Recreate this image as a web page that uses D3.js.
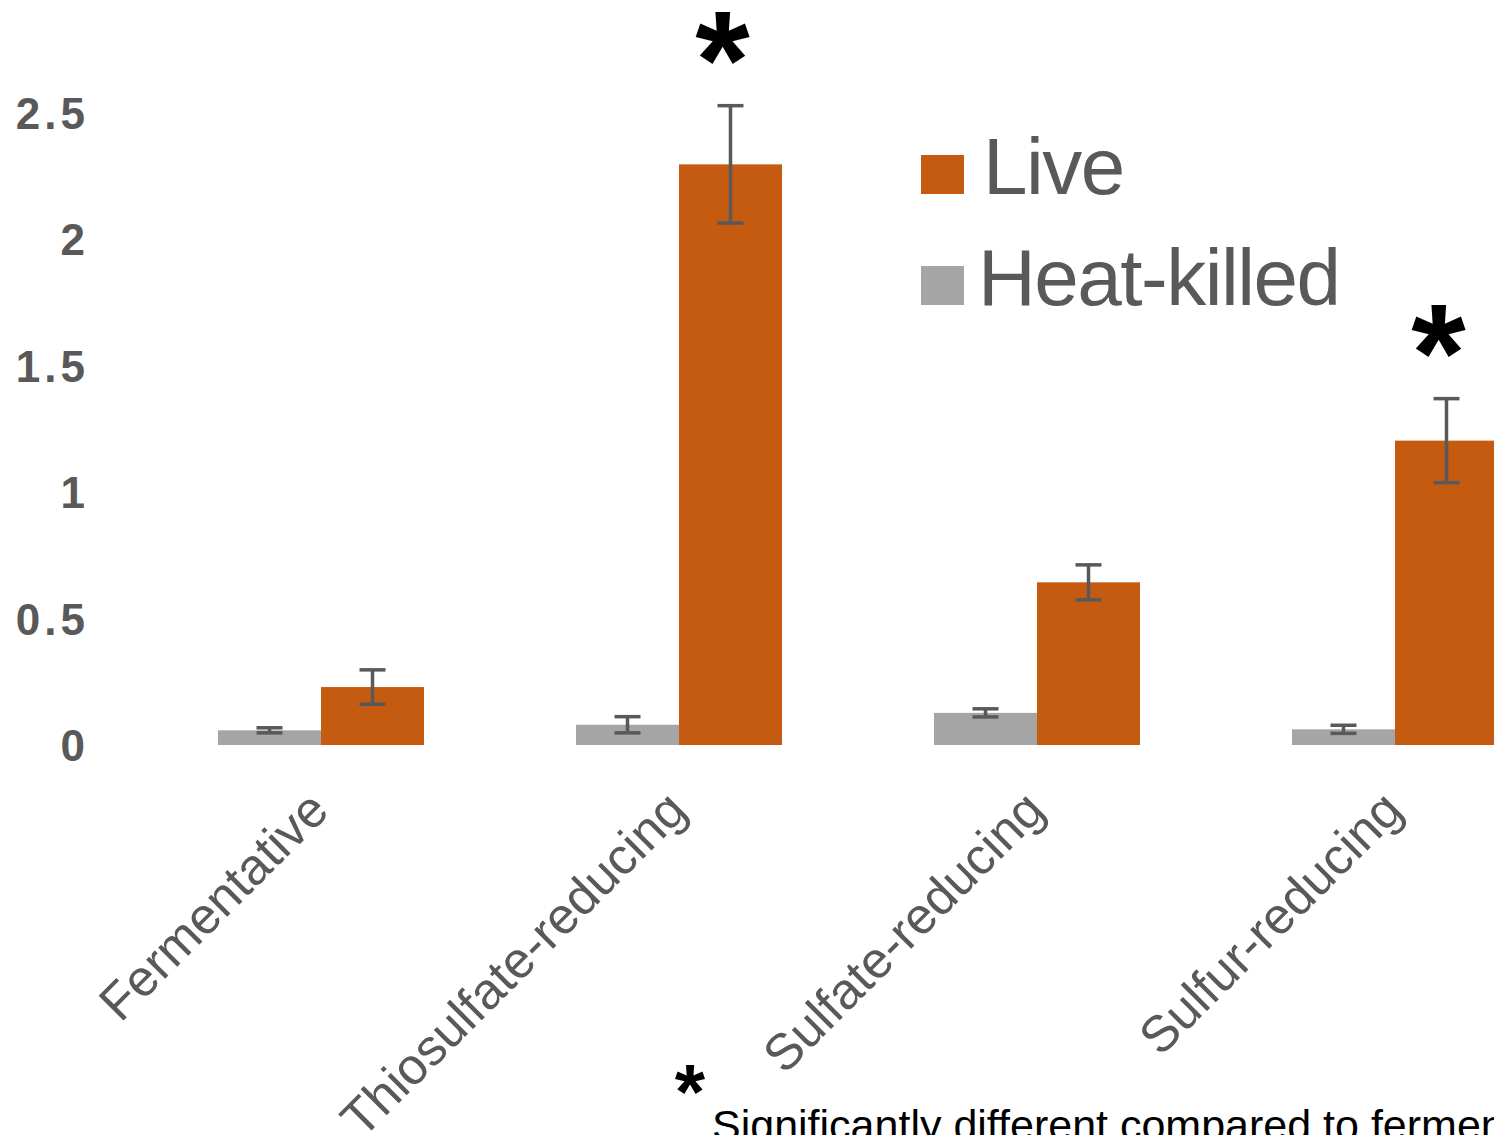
<!DOCTYPE html>
<html>
<head>
<meta charset="utf-8">
<script src="https://cdn.jsdelivr.net/npm/d3@7/dist/d3.min.js"></script>
<style>
  html, body { margin: 0; padding: 0; background: #fff; overflow: hidden; }
  svg { display: block; }
</style>
</head>
<body>
<svg id="chart" width="1494" height="1135"></svg>
<script>
// Grouped bars: live vs heat-killed activity by metabolic group
const categories = ["Fermentative", "Thiosulfate-reducing", "Sulfate-reducing", "Sulfur-reducing"];
const seriesNames = ["Heat-killed", "Live"];
const heatKilled = [0.058, 0.080, 0.127, 0.062];
const heatKilledErr = [0.010, 0.032, 0.016, 0.016];
const live = [0.229, 2.295, 0.643, 1.203];
const liveErr = [0.068, 0.232, 0.069, 0.166];
const significant = [false, true, false, true];
const yTicks = [0, 0.5, 1, 1.5, 2, 2.5];
const yTickLabels = ["0", "0.5", "1", "1.5", "2", "2.5"];
const legendOrder = ["Live", "Heat-killed"];
const footnote = "Significantly different compared to fermentative";

const colors = { "Live": "#C55A11", "Heat-killed": "#A5A5A5" };
const errColor = "#595959";
const textColor = "#595959";

const svg = d3.select("#chart");

const y = d3.scaleLinear().domain([0, 2.5]).range([745, 112.5]);
const x = d3.scaleBand().domain(categories).range([142, 1574])
  .paddingInner(0.4246).paddingOuter(0.2123);
const xSub = d3.scaleBand().domain(seriesNames).range([0, x.bandwidth()]);

const rows = categories.map((c, i) => ({
  cat: c,
  sig: significant[i],
  bars: [
    { series: "Heat-killed", value: heatKilled[i], err: heatKilledErr[i] },
    { series: "Live", value: live[i], err: liveErr[i] }
  ]
}));

// y-axis tick labels (no axis line, no gridlines)
const yAxis = d3.axisLeft(y).tickValues(yTicks)
  .tickFormat((d, i) => yTickLabels[i]).tickSize(0).tickPadding(0);
const yg = svg.append("g").attr("transform", "translate(89,0)").call(yAxis);
yg.select(".domain").remove();
yg.selectAll("text")
  .attr("fill", textColor)
  .style("font-family", "'Liberation Sans', Arial, sans-serif")
  .style("font-size", "44px")
  .style("font-weight", "bold")
  .style("letter-spacing", "4px")
  .attr("dy", "0.36em");

// bars
const groups = svg.append("g").selectAll("g.grp").data(rows).join("g")
  .attr("class", "grp")
  .attr("transform", d => `translate(${x(d.cat)},0)`);

groups.selectAll("rect").data(d => d.bars).join("rect")
  .attr("x", d => xSub(d.series))
  .attr("width", xSub.bandwidth())
  .attr("y", d => y(d.value))
  .attr("height", d => y(0) - y(d.value))
  .attr("fill", d => colors[d.series]);

// error bars
const capHalf = 13;
const eb = groups.selectAll("g.err").data(d => d.bars).join("g")
  .attr("class", "err")
  .attr("stroke", errColor)
  .attr("stroke-width", 3.5);
eb.append("line")
  .attr("x1", d => xSub(d.series) + xSub.bandwidth() / 2)
  .attr("x2", d => xSub(d.series) + xSub.bandwidth() / 2)
  .attr("y1", d => y(d.value + d.err))
  .attr("y2", d => y(d.value - d.err));
eb.append("line")
  .attr("x1", d => xSub(d.series) + xSub.bandwidth() / 2 - capHalf)
  .attr("x2", d => xSub(d.series) + xSub.bandwidth() / 2 + capHalf)
  .attr("y1", d => y(d.value + d.err))
  .attr("y2", d => y(d.value + d.err));
eb.append("line")
  .attr("x1", d => xSub(d.series) + xSub.bandwidth() / 2 - capHalf)
  .attr("x2", d => xSub(d.series) + xSub.bandwidth() / 2 + capHalf)
  .attr("y1", d => y(d.value - d.err))
  .attr("y2", d => y(d.value - d.err));

// significance stars above live bars
groups.filter(d => d.sig).append("text")
  .attr("x", d => xSub("Live") + xSub.bandwidth() / 2 - 8)
  .attr("y", d => {
    const b = d.bars[1];
    return y(b.value + b.err) + 2;
  })
  .attr("text-anchor", "middle")
  .attr("fill", "#000")
  .style("font-family", "'Liberation Sans', Arial, sans-serif")
  .style("font-weight", "bold")
  .style("font-size", "140px")
  .text("*");

// rotated category labels
svg.append("g").selectAll("text").data(categories).join("text")
  .attr("transform", d => `translate(${x(d) + xSub.bandwidth() + 10},813) rotate(-45)`)
  .attr("text-anchor", "end")
  .attr("fill", textColor)
  .style("font-family", "'Liberation Sans', Arial, sans-serif")
  .style("font-size", "51px")
  .text(d => d);

// legend
const lg = svg.append("g").selectAll("g").data(legendOrder).join("g")
  .attr("transform", (d, i) => `translate(921,${155 + i * 111})`);
lg.append("rect").attr("width", 43).attr("height", 39).attr("fill", d => colors[d]);
lg.append("text")
  .attr("x", (d, i) => i === 0 ? 62 : 57)
  .attr("y", 39)
  .attr("fill", textColor)
  .style("font-family", "'Liberation Sans', Arial, sans-serif")
  .style("font-size", "80px")
  .style("letter-spacing", "-1.5px")
  .text(d => d);

// footnote
svg.append("text")
  .attr("x", 690).attr("y", 1119)
  .attr("text-anchor", "middle")
  .attr("fill", "#000")
  .style("font-family", "'Liberation Sans', Arial, sans-serif")
  .style("font-weight", "bold")
  .style("font-size", "78px")
  .text("*");
svg.append("text")
  .attr("x", 712).attr("y", 1140)
  .attr("fill", "#000")
  .style("font-family", "'Liberation Sans', Arial, sans-serif")
  .style("font-size", "43px")
  .text(footnote);
</script>
</body>
</html>
